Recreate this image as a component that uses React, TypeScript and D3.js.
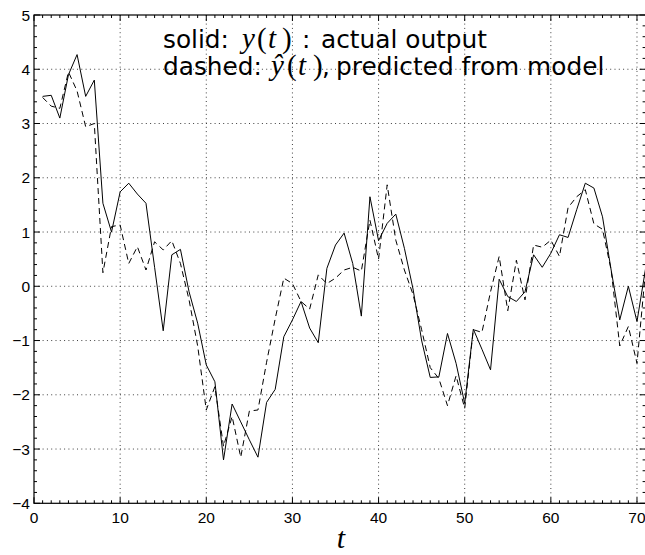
import React from "react";
import * as d3 from "d3";

// time index t = 1..71 (one value per sample)
const actual: number[] = [
  3.5, 3.52, 3.1, 3.9, 4.27, 3.5, 3.8, 1.53, 1.0, 1.74,
  1.9, 1.7, 1.53, 0.35, -0.82, 0.58, 0.68, -0.1, -0.68, -1.45,
  -1.76, -3.2, -2.17, -2.5, -2.83, -3.15, -2.14, -1.9, -0.93, -0.62,
  -0.28, -0.77, -1.04, 0.33, 0.76, 0.98, 0.42, -0.55, 1.65, 0.84,
  1.16, 1.33, 0.7, -0.05, -1.0, -1.68, -1.67, -0.87, -1.42, -2.16,
  -0.79, -1.16, -1.54, 0.13, -0.19, -0.28, -0.1, 0.58, 0.35, 0.61,
  0.95, 0.9, 1.41, 1.9, 1.81, 1.28, 0.3, -0.62, 0.0, -0.65,
  0.33,
];

const predicted: number[] = [
  3.48, 3.32, 3.28, 3.95, 3.6, 2.94, 3.0, 0.25, 1.1, 1.13,
  0.42, 0.73, 0.3, 0.82, 0.67, 0.84, 0.42, -0.25, -1.1, -2.28,
  -1.85, -2.95, -2.4, -3.15, -2.3, -2.28, -1.4, -0.6, 0.15, 0.05,
  -0.28, -0.42, 0.21, 0.05, 0.15, 0.3, 0.35, 0.28, 1.22, 0.5,
  1.87, 0.85, 0.3, -0.15, -0.8, -1.5, -1.7, -2.2, -1.65, -2.25,
  -0.8, -0.85, -0.1, 0.55, -0.45, 0.48, -0.25, 0.76, 0.72, 0.85,
  0.55, 1.45, 1.65, 1.78, 1.15, 1.05, 0.3, -1.1, -0.74, -1.42,
  0.3,
];

const xTicks: number[] = [0, 10, 20, 30, 40, 50, 60, 70];
const yTicks: number[] = [-4, -3, -2, -1, 0, 1, 2, 3, 4, 5];
const xDomain: [number, number] = [0, 71];
const yDomain: [number, number] = [-4, 5];

const W = 645;
const H = 555;
const L = 34;
const R = 645.6;
const TOP = 15;
const BOT = 503.3;

const SANS = "'DejaVu Sans', 'Liberation Sans', Arial, sans-serif";
const TICKF = "'Liberation Sans', Arial, Helvetica, sans-serif";
const SERIF = "'Liberation Serif', 'Times New Roman', serif";

export default function App() {
  const x = d3.scaleLinear().domain(xDomain).range([L, R]);
  const y = d3.scaleLinear().domain(yDomain).range([BOT, TOP]);

  const line = d3
    .line<number>()
    .x((_, i) => x(i + 1))
    .y((d) => y(d));

  const xMinor = d3.range(xDomain[0], xDomain[1] + 0.001, 1).filter((v) => !xTicks.includes(v));
  const yMinor = d3
    .range(yDomain[0], yDomain[1] + 0.001, 0.2)
    .map((v) => Math.round(v * 10) / 10)
    .filter((v) => !yTicks.includes(v));

  const tick = 6;
  const minor = 3;
  const fs = 24.8;
  const ms = 29;

  return (
    <svg
      width={W}
      height={H}
      style={{ position: "absolute", left: 0, top: 0, background: "#fff" }}
    >
      <rect x={0} y={0} width={W} height={H} fill="#fff" />
      {/* grid */}
      <g stroke="#000" strokeWidth={1} strokeDasharray="1,3.3" opacity={0.75}>
        {xTicks.slice(1).map((t) => (
          <line key={"gx" + t} x1={x(t)} x2={x(t)} y1={TOP} y2={BOT} />
        ))}
        {yTicks.slice(1, -1).map((t) => (
          <line key={"gy" + t} x1={L} x2={R} y1={y(t)} y2={y(t)} />
        ))}
      </g>

      {/* data */}
      <path d={line(predicted) || ""} fill="none" stroke="#000" strokeWidth={1} strokeDasharray="6,4" />
      <path d={line(actual) || ""} fill="none" stroke="#000" strokeWidth={1} />

      {/* frame */}
      <rect x={L} y={TOP} width={R - L} height={BOT - TOP} fill="none" stroke="#000" strokeWidth={1.2} />
      <g stroke="#000" strokeWidth={1}>
        {xTicks.map((t) => (
          <g key={"xt" + t}>
            <line x1={x(t)} x2={x(t)} y1={BOT} y2={BOT - tick} />
            <line x1={x(t)} x2={x(t)} y1={TOP} y2={TOP + tick} />
          </g>
        ))}
        {xMinor.map((t) => (
          <g key={"xm" + t}>
            <line x1={x(t)} x2={x(t)} y1={BOT} y2={BOT - minor} />
            <line x1={x(t)} x2={x(t)} y1={TOP} y2={TOP + minor} />
          </g>
        ))}
        {yTicks.map((t) => (
          <g key={"yt" + t}>
            <line x1={L} x2={L + tick} y1={y(t)} y2={y(t)} />
            <line x1={R} x2={R - tick} y1={y(t)} y2={y(t)} />
          </g>
        ))}
        {yMinor.map((t) => (
          <g key={"ym" + t}>
            <line x1={L} x2={L + minor} y1={y(t)} y2={y(t)} />
            <line x1={R} x2={R - minor} y1={y(t)} y2={y(t)} />
          </g>
        ))}
      </g>

      {/* tick labels */}
      <g fontFamily={TICKF} fontSize={15.5} fill="#000">
        {xTicks.map((t) => (
          <text key={"xl" + t} x={x(t)} y={523} textAnchor="middle">
            {String(t)}
          </text>
        ))}
        {yTicks.map((t) => (
          <text key={"yl" + t} x={30} y={y(t) + 5.5} textAnchor="end">
            {t < 0 ? "\u2212" + Math.abs(t) : String(t)}
          </text>
        ))}
      </g>

      {/* x label */}
      <text x={341} y={548} fontFamily={SERIF} fontStyle="italic" fontSize={30} textAnchor="middle">
        t
      </text>

      {/* annotation */}
      <g fill="#000">
        <text x={163} y={48} fontFamily={SANS} fontSize={fs}>solid:</text>
        <text x={242} y={48} fontFamily={SERIF} fontStyle="italic" fontSize={ms}>y</text>
        <text x={257} y={48} fontFamily={SERIF} fontSize={ms}>(</text>
        <text x={268} y={48} fontFamily={SERIF} fontStyle="italic" fontSize={ms}>t</text>
        <text x={282} y={48} fontFamily={SERIF} fontSize={ms}>)</text>
        <text x={302} y={48} fontFamily={SANS} fontSize={fs}>:</text>
        <text x={321} y={48} fontFamily={SANS} fontSize={fs}>actual output</text>

        <text x={163} y={75} fontFamily={SANS} fontSize={fs}>dashed:</text>
        <text x={271} y={75} fontFamily={SERIF} fontStyle="italic" fontSize={ms}>ŷ</text>
        <text x={287} y={75} fontFamily={SERIF} fontSize={ms}>(</text>
        <text x={298} y={75} fontFamily={SERIF} fontStyle="italic" fontSize={ms}>t</text>
        <text x={313} y={75} fontFamily={SERIF} fontSize={ms}>)</text>
        <text x={322} y={75} fontFamily={SANS} fontSize={fs}>,</text>
        <text x={336} y={75} fontFamily={SANS} fontSize={fs}>predicted from model</text>
      </g>
    </svg>
  );
}
